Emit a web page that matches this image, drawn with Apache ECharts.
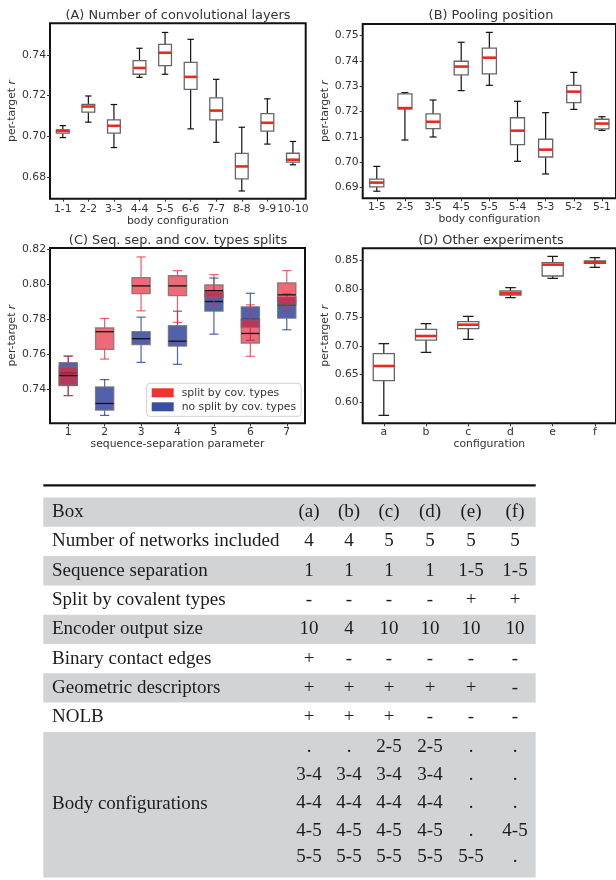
<!DOCTYPE html>
<html><head><meta charset="utf-8">
<script src="https://cdn.jsdelivr.net/npm/echarts@6/dist/echarts.min.js"></script>
<style>html,body{margin:0;padding:0;background:#fff}#c{width:616px;height:880px}</style>
</head><body><div id="c"></div>
<script>
// ---------- DATA ----------
// box stats: [lower whisker, Q1, median, Q3, upper whisker]
const convCats = ['1-1','2-2','3-3','4-4','5-5','6-6','7-7','8-8','9-9','10-10'];
const convStats = [
  [0.6993, 0.7015, 0.7026, 0.7031, 0.7052],
  [0.7069, 0.7118, 0.7146, 0.7157, 0.7198],
  [0.6944, 0.7015, 0.7051, 0.7080, 0.7156],
  [0.7290, 0.7305, 0.7336, 0.7372, 0.7433],
  [0.7305, 0.7348, 0.7411, 0.7452, 0.7511],
  [0.7036, 0.7231, 0.7292, 0.7364, 0.7477],
  [0.6970, 0.7080, 0.7126, 0.7189, 0.7280],
  [0.6730, 0.6790, 0.6851, 0.6915, 0.7044],
  [0.6961, 0.7025, 0.7066, 0.7111, 0.7184],
  [0.6859, 0.6872, 0.6884, 0.6916, 0.6974]
];
const convTicks = [0.68, 0.70, 0.72, 0.74];

const poolCats = ['1-5','2-5','3-5','4-5','5-5','5-4','5-3','5-2','5-1'];
const poolStats = [
  [0.6886, 0.6903, 0.6920, 0.6934, 0.6984],
  [0.7088, 0.7211, 0.7214, 0.7270, 0.7275],
  [0.7100, 0.7133, 0.7160, 0.7191, 0.7246],
  [0.7283, 0.7345, 0.7378, 0.7399, 0.7474],
  [0.7304, 0.7349, 0.7413, 0.7451, 0.7513],
  [0.7004, 0.7070, 0.7125, 0.7176, 0.7241],
  [0.6954, 0.7021, 0.7050, 0.7091, 0.7196],
  [0.7209, 0.7236, 0.7279, 0.7304, 0.7355],
  [0.7126, 0.7132, 0.7153, 0.7170, 0.7180]
];
const poolTicks = [0.69, 0.70, 0.71, 0.72, 0.73, 0.74, 0.75];

const seqCats = ['1','2','3','4','5','6','7'];
const seqSplitStats = [
  [0.7365, 0.7424, 0.7479, 0.7528, 0.7590],
  [0.7573, 0.7628, 0.7729, 0.7751, 0.7804],
  [0.7848, 0.7946, 0.7990, 0.8037, 0.8155],
  [0.7782, 0.7935, 0.7990, 0.8048, 0.8077],
  [0.7880, 0.7925, 0.7963, 0.7996, 0.8054],
  [0.7589, 0.7664, 0.7719, 0.7797, 0.7882],
  [0.7846, 0.7882, 0.7939, 0.8007, 0.8077]
];
const seqNoSplitStats = [
  [0.7365, 0.7422, 0.7494, 0.7553, 0.7590],
  [0.7252, 0.7282, 0.7320, 0.7414, 0.7456],
  [0.7554, 0.7655, 0.7689, 0.7729, 0.7812],
  [0.7543, 0.7647, 0.7675, 0.7763, 0.7846],
  [0.7715, 0.7846, 0.7901, 0.7954, 0.8035],
  [0.7680, 0.7755, 0.7799, 0.7871, 0.7948],
  [0.7740, 0.7806, 0.7882, 0.7925, 0.7944]
];
const seqTicks = [0.74, 0.76, 0.78, 0.80, 0.82];
const seqSeriesNames = ['split by cov. types', 'no split by cov. types'];

const otherCats = ['a','b','c','d','e','f'];
const otherStats = [
  [0.5777, 0.6387, 0.6646, 0.6863, 0.7039],
  [0.6886, 0.7103, 0.7174, 0.7291, 0.7391],
  [0.7115, 0.7303, 0.7373, 0.7426, 0.7520],
  [0.7849, 0.7896, 0.7925, 0.7966, 0.8025],
  [0.8189, 0.8230, 0.8430, 0.8465, 0.8576],
  [0.8383, 0.8453, 0.8471, 0.8494, 0.8553]
];
const otherTicks = [0.60, 0.65, 0.70, 0.75, 0.80, 0.85];

// table
const tableRowLabels = ['Box','Number of networks included','Sequence separation','Split by covalent types',
  'Encoder output size','Binary contact edges','Geometric descriptors','NOLB'];
const tableRowValues = [
  ['(a)','(b)','(c)','(d)','(e)','(f)'],
  ['4','4','5','5','5','5'],
  ['1','1','1','1','1-5','1-5'],
  ['-','-','-','-','+','+'],
  ['10','4','10','10','10','10'],
  ['+','-','-','-','-','-'],
  ['+','+','+','+','+','-'],
  ['+','+','+','-','-','-']
];
const bodyConfigLabel = 'Body configurations';
const bodyConfigValues = [
  ['.','.','2-5','2-5','.','.'],
  ['3-4','3-4','3-4','3-4','.','.'],
  ['4-4','4-4','4-4','4-4','.','.'],
  ['4-5','4-5','4-5','4-5','.','4-5'],
  ['5-5','5-5','5-5','5-5','5-5','.']
];

// ---------- STYLE / LAYOUT ----------
const FONT = 'DejaVu Sans';
const FS = 10.8;
const TXT = '#333';

function boxRender(st) {
  return function (params, api) {
    const xi = api.value(0);
    const lo = api.coord([xi, api.value(1)]);
    const q1 = api.coord([xi, api.value(2)]);
    const md = api.coord([xi, api.value(3)]);
    const q3 = api.coord([xi, api.value(4)]);
    const hi = api.coord([xi, api.value(5)]);
    const band = api.size([1, 0])[0];
    const bw = band * 0.5;
    const cw = bw * 0.5;
    const cx = md[0];
    const ws = { stroke: st.whisker, lineWidth: 1.2 };
    const L = (x1, y1, x2, y2, s) => ({ type: 'line', shape: { x1, y1, x2, y2 }, style: s });
    return {
      type: 'group',
      children: [
        L(cx, q1[1], cx, lo[1], ws),
        L(cx, q3[1], cx, hi[1], ws),
        L(cx - cw / 2, lo[1], cx + cw / 2, lo[1], ws),
        L(cx - cw / 2, hi[1], cx + cw / 2, hi[1], ws),
        { type: 'rect', shape: { x: cx - bw / 2, y: q3[1], width: bw, height: q1[1] - q3[1] },
          style: { fill: st.fill, stroke: st.edge, lineWidth: st.edgeWidth } },
        L(cx - bw / 2, md[1], cx + bw / 2, md[1], { stroke: st.median, lineWidth: st.medianWidth })
      ]
    };
  };
}

const plainStyle = { whisker: '#111', fill: '#fff', edge: '#666', edgeWidth: 1.3, median: '#e8291f', medianWidth: 2.6 };
const redStyle = { whisker: 'rgba(232,40,50,0.75)', fill: 'rgba(232,35,55,0.68)', edge: 'rgba(110,110,110,0.8)', edgeWidth: 1.3, median: '#111', medianWidth: 1.3 };
const blueStyle = { whisker: 'rgba(40,60,160,0.8)', fill: 'rgba(40,58,152,0.8)', edge: 'rgba(110,110,110,0.8)', edgeWidth: 1.3, median: '#111', medianWidth: 1.3 };

const grids = [
  { left: 50, top: 23.3, width: 255.7, height: 175.4 },
  { left: 362.7, top: 24, width: 264, height: 174.3 },
  { left: 50, top: 248, width: 255, height: 175.3 },
  { left: 362.7, top: 248.3, width: 256.3, height: 175 }
].map(g => Object.assign({ show: true, borderColor: '#111', borderWidth: 2, backgroundColor: 'transparent' }, g));

const yRanges = [[0.6692, 0.7556], [0.6858, 0.7546], [0.7207, 0.8206], [0.5637, 0.8718]];
const yTicks = [convTicks, poolTicks, seqTicks, otherTicks];
const yNameGaps = [30, 28, 30, 28];
const xCatsList = [convCats, poolCats, seqCats, otherCats];
const xNames = ['body configuration', 'body configuration', 'sequence-separation parameter', 'configuration'];
const xNameGaps = [14, 15, 13, 13];
const xLabelMargins = [5, 3, 3, 3];

const xAxes = xCatsList.map((cats, i) => ({
  type: 'category', gridIndex: i, data: cats,
  name: xNames[i], nameLocation: 'middle', nameGap: xNameGaps[i],
  nameTextStyle: { fontFamily: FONT, fontSize: FS, color: TXT },
  axisLine: { show: false },
  axisTick: { show: true, alignWithLabel: true, length: 3, lineStyle: { color: '#333' } },
  axisLabel: { fontFamily: FONT, fontSize: FS, color: TXT, margin: xLabelMargins[i], interval: 0 },
  splitLine: { show: false }
}));

const yAxes = yRanges.map((r, i) => ({
  type: 'value', gridIndex: i, min: r[0], max: r[1],
  name: 'per-target {i|r}', nameLocation: 'middle', nameGap: yNameGaps[i],
  nameTextStyle: { fontFamily: FONT, fontSize: FS, color: TXT,
    rich: { i: { fontFamily: FONT, fontSize: FS, color: TXT, fontStyle: 'italic' } } },
  axisLine: { show: false },
  axisTick: { show: true, length: 3, lineStyle: { color: '#333' }, customValues: yTicks[i] },
  axisLabel: { fontFamily: FONT, fontSize: FS, color: TXT, margin: 4, customValues: yTicks[i],
    formatter: v => v.toFixed(2) },
  splitLine: { show: false }
}));

const toData = stats => stats.map((s, i) => [i].concat(s));
const boxEncode = { x: 0, y: [1, 2, 3, 4, 5] };

const series = [
  { type: 'custom', name: 'conv', xAxisIndex: 0, yAxisIndex: 0, renderItem: boxRender(plainStyle), data: toData(convStats), encode: boxEncode, clip: false },
  { type: 'custom', name: 'pool', xAxisIndex: 1, yAxisIndex: 1, renderItem: boxRender(plainStyle), data: toData(poolStats), encode: boxEncode, clip: false },
  { type: 'custom', name: seqSeriesNames[1], xAxisIndex: 2, yAxisIndex: 2, renderItem: boxRender(blueStyle), data: toData(seqNoSplitStats), encode: boxEncode, itemStyle: { color: '#3a4ea3' }, clip: false },
  { type: 'custom', name: seqSeriesNames[0], xAxisIndex: 2, yAxisIndex: 2, renderItem: boxRender(redStyle), data: toData(seqSplitStats), encode: boxEncode, itemStyle: { color: '#ec3430' }, clip: false },
  { type: 'custom', name: 'other', xAxisIndex: 3, yAxisIndex: 3, renderItem: boxRender(plainStyle), data: toData(otherStats), encode: boxEncode, clip: false }
];

const titleStyle = { fontFamily: FONT, fontSize: 12.9, color: TXT, fontWeight: 'normal' };
const titles = [
  { text: '(A) Number of convolutional layers', left: 178, top: 9 },
  { text: '(B) Pooling position', left: 491, top: 9.5 },
  { text: '(C) Seq. sep. and cov. types splits', left: 178, top: 234.5 },
  { text: '(D) Other experiments', left: 491, top: 234.5 }
].map(t => Object.assign({ textAlign: 'center', padding: 0, textStyle: titleStyle }, t));

// ---------- TABLE (graphic) ----------
const serif = 'Liberation Serif';
const tFS = 19;
const tColor = '#1c1c1c';
const tLeft = 43.3, tRight = 535.7, labelX = 52;
const colX = [309, 349, 389, 430, 471, 515];
const rowTop = 497.5, rowH = 29.3;
const gray = '#d2d3d5';
const graphics = [];
graphics.push({ type: 'rect', shape: { x: tLeft, y: 484.2, width: tRight - tLeft, height: 2.2 }, style: { fill: '#111' } });
tableRowLabels.forEach((lab, r) => {
  const top = rowTop + r * rowH;
  const cy = top + rowH / 2;
  if (r % 2 === 0) graphics.push({ type: 'rect', shape: { x: tLeft, y: top, width: tRight - tLeft, height: rowH }, style: { fill: gray } });
  graphics.push({ type: 'text', x: labelX, y: cy, style: { text: lab, fontFamily: serif, fontSize: tFS, fill: tColor, verticalAlign: 'middle', align: 'left' } });
  tableRowValues[r].forEach((v, c) => {
    graphics.push({ type: 'text', x: colX[c], y: cy, style: { text: v, fontFamily: serif, fontSize: tFS, fill: tColor, verticalAlign: 'middle', align: 'center' } });
  });
});
const bodyTop = rowTop + tableRowLabels.length * rowH;
const bodyBottom = 877.5;
graphics.push({ type: 'rect', shape: { x: tLeft, y: bodyTop, width: tRight - tLeft, height: bodyBottom - bodyTop }, style: { fill: gray } });
const bodyRowYs = [747.5, 775.5, 803.5, 831, 857];
graphics.push({ type: 'text', x: labelX, y: 804, style: { text: bodyConfigLabel, fontFamily: serif, fontSize: tFS, fill: tColor, verticalAlign: 'middle', align: 'left' } });
bodyConfigValues.forEach((row, r) => {
  row.forEach((v, c) => {
    graphics.push({ type: 'text', x: colX[c], y: bodyRowYs[r], style: { text: v, fontFamily: serif, fontSize: tFS, fill: tColor, verticalAlign: 'middle', align: 'center' } });
  });
});

const chart = echarts.init(document.getElementById('c'), null, { renderer: 'canvas' });
chart.setOption({
  animation: false,
  backgroundColor: '#fff',
  title: titles,
  grid: grids,
  xAxis: xAxes,
  yAxis: yAxes,
  legend: {
    data: [
      { name: seqSeriesNames[0], itemStyle: { color: '#ec3430', opacity: 1 } },
      { name: seqSeriesNames[1], itemStyle: { color: '#3a4ea3', opacity: 1 } }
    ],
    orient: 'vertical', left: 146.7, top: 383.3,
    padding: [4, 5, 4, 5], itemGap: 3, itemWidth: 22, itemHeight: 9, icon: 'rect',
    backgroundColor: 'rgba(255,255,255,0.85)', borderColor: '#d0d0d0', borderWidth: 1, borderRadius: 3,
    textStyle: { fontFamily: FONT, fontSize: FS, color: TXT, padding: [0, 0, 0, 3] },
    selectedMode: false
  },
  series: series,
  graphic: { elements: graphics }
});
</script>
</body></html>
